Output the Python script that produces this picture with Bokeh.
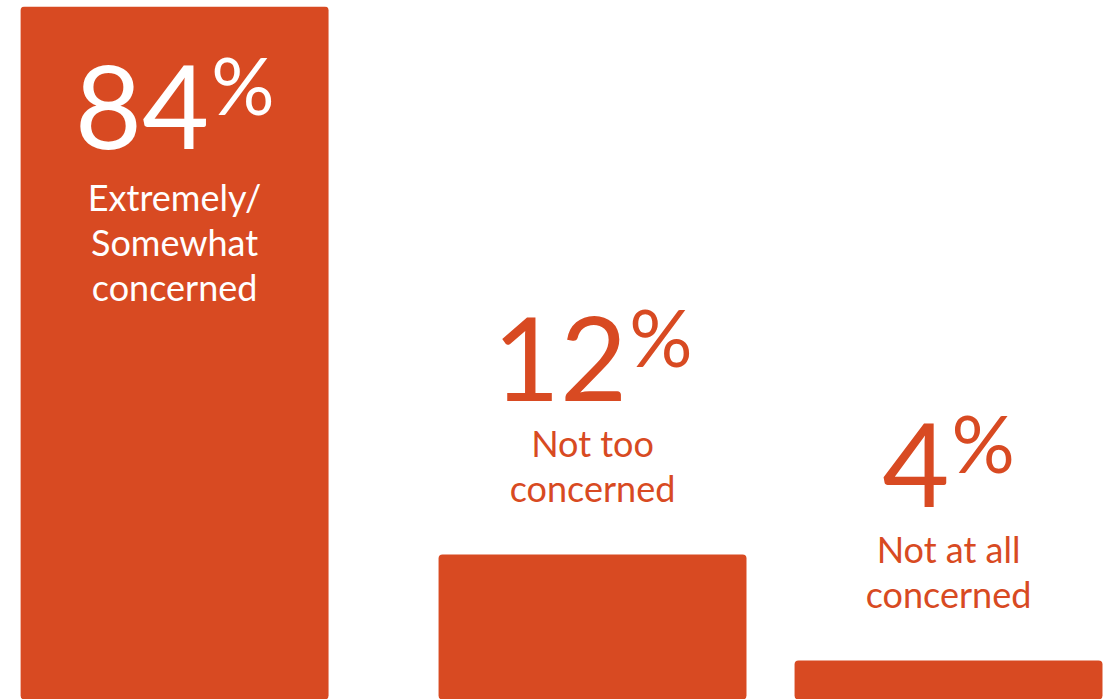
from bokeh.plotting import figure
from bokeh.models import ColumnDataSource, Range1d
from bokeh.embed import file_html
from bokeh.resources import INLINE
from bokeh.core.properties import value

# ---------------- data ----------------
groups = ["Concerned", "Not concerned", "Not concerned"]
categories = ["Extremely/Somewhat concerned", "Not too concerned", "Not at all concerned"]
values = [84, 12, 4]
label_lines = [["Extremely/", "Somewhat", "concerned"],
               ["Not too", "concerned"],
               ["Not at all", "concerned"]]

# ---------------- style / layout ----------------
BAR = "#D84A22"
FONT = "Lato"
W, H = 1110, 699
TOP = 6
y_start, y_end = 1.06, 53.36
GROUP_GAP = 0.174
x_start = -0.489
x_end = x_start + W / 356.0
bar_width = 0.865

NUM_SIZE = 116
PCT_SIZE = 79
LBL_SIZE = 36
LINE_H = 45
DIG_W = 0.58 * NUM_SIZE
PCT_W = 0.80 * PCT_SIZE
GAP = 2
BASE_FIX = 0.355  # renderer baseline correction (fraction of font size)

# x positions: one unit per category, extra gap between groups
xs = []
pos = 0.0
for i, g in enumerate(groups):
    if i > 0:
        pos += 1.0 + (GROUP_GAP if g != groups[i - 1] else 0.0)
    xs.append(pos)

p = figure(width=W, height=H, x_range=Range1d(x_start, x_end),
           y_range=Range1d(y_start, y_end), output_backend="svg",
           toolbar_location=None, min_border_left=0, min_border_right=0,
           min_border_top=TOP, min_border_bottom=0)
p.axis.visible = False
p.grid.visible = False
p.outline_line_color = None
p.background_fill_color = "white"
p.border_fill_color = "white"

p.vbar(x=xs, top=values, bottom=0, width=bar_width, fill_color=BAR,
       line_color=None, border_radius=4)

inside = [v > y_end for v in values]
anchor = [min(v, y_end) for v in values]
colors = ["white" if ins else BAR for ins in inside]

num_text, num_xo, num_yo = [], [], []
pct_xo, pct_yo = [], []
for i, v in enumerate(values):
    s = str(v)
    right = (len(s) * DIG_W - (GAP + PCT_W)) / 2
    base = 142 if inside[i] else -154
    num_text.append(s)
    num_xo.append(right)
    num_yo.append(base - BASE_FIX * NUM_SIZE)
    pct_xo.append(right + GAP)
    pct_yo.append(base - 36 - BASE_FIX * PCT_SIZE)

num_src = ColumnDataSource(dict(x=xs, y=anchor, text=num_text, xo=num_xo,
                                yo=num_yo, c=colors))
pct_src = ColumnDataSource(dict(x=xs, y=anchor, text=["%"] * len(xs), xo=pct_xo,
                                yo=pct_yo, c=colors))

p.text(x="x", y="y", text="text", x_offset="xo", y_offset="yo",
       text_color="c", text_font=value(FONT), text_font_size=f"{NUM_SIZE}px",
       text_align="right", text_baseline="alphabetic", source=num_src)
p.text(x="x", y="y", text="text", x_offset="xo", y_offset="yo",
       text_color="c", text_font=value(FONT), text_font_size=f"{PCT_SIZE}px",
       text_align="left", text_baseline="alphabetic", source=pct_src)

lx, ly, lt, lyo, lc = [], [], [], [], []
for i, lines in enumerate(label_lines):
    first = 203 if inside[i] else -99
    for j, ln in enumerate(lines):
        lx.append(xs[i])
        ly.append(anchor[i])
        lt.append(ln)
        lyo.append(first + j * LINE_H - BASE_FIX * LBL_SIZE)
        lc.append(colors[i])
lbl_src = ColumnDataSource(dict(x=lx, y=ly, text=lt, yo=lyo, c=lc))
p.text(x="x", y="y", text="text", y_offset="yo", text_color="c",
       text_font=value(FONT), text_font_size=f"{LBL_SIZE}px",
       text_align="center", text_baseline="alphabetic", source=lbl_src)

open("out.html", "w").write(file_html(p, INLINE))
